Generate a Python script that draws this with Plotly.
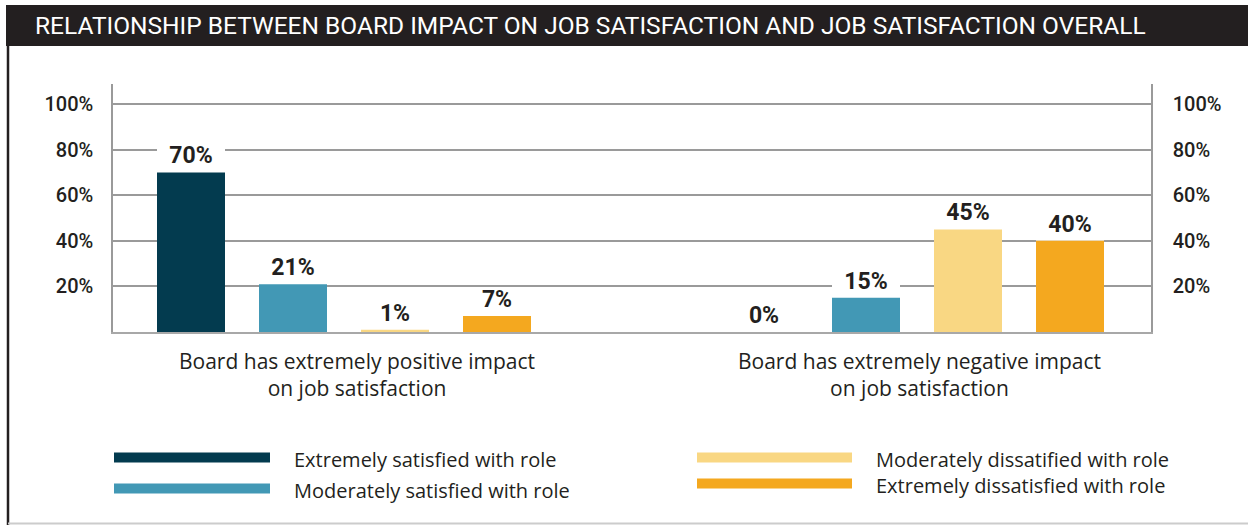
import plotly.graph_objects as go

# ---------------- data ----------------
categories = ["Board has extremely positive impact<br>on job satisfaction",
              "Board has extremely negative impact<br>on job satisfaction"]
series_names = ["Extremely satisfied with role",
                "Moderately satisfied with role",
                "Moderately dissatified with role",
                "Extremely dissatisfied with role"]
values_positive = [70, 21, 1, 7]
values_negative = [0, 15, 45, 40]
series_colors = ["#033b4f", "#4298b5", "#f9d783", "#f4a81f"]
y_ticks = [20, 40, 60, 80, 100]
y_tick_labels = ["20%", "40%", "60%", "80%", "100%"]
title_text = "RELATIONSHIP BETWEEN BOARD IMPACT ON JOB SATISFACTION AND JOB SATISFACTION OVERALL"

# ---------------- layout constants (pixels) ----------------
W, H = 1248, 525
L, R, T, B = 113, 1151, 84, 331.7
FONT = "Roboto, 'DejaVu Sans', sans-serif"
BODY = "'Open Sans', Roboto, sans-serif"
INK = "#231f20"

def px(x):
    return (x - L) / (R - L)

def py(y):
    return (B - y) / (B - T)

x_pos = list(range(len(categories)))
series_values = [[values_positive[i], values_negative[i]] for i in range(len(series_names))]

fig = go.Figure()

# white label backgrounds (drawn above gridlines, below the labels)
for i, name in enumerate(series_names):
    fig.add_trace(go.Bar(
        x=x_pos, y=[11] * len(x_pos), base=series_values[i],
        marker=dict(color="white", line=dict(width=0)),
        offsetgroup=str(i), showlegend=False, hoverinfo="skip",
    ))

for i, name in enumerate(series_names):
    fig.add_trace(go.Bar(
        x=x_pos, y=series_values[i], name=name,
        marker=dict(color=series_colors[i], line=dict(width=0)),
        offsetgroup=str(i), showlegend=False,
        text=[f"{v}%" for v in series_values[i]],
        textposition="outside", cliponaxis=False,
        textfont=dict(family=FONT, size=23, color=INK, weight="bold"),
    ))

# invisible trace for right axis
fig.add_trace(go.Scatter(x=[x_pos[0]], y=[y_ticks[0]], yaxis="y2",
                         mode="markers", marker=dict(opacity=0),
                         showlegend=False, hoverinfo="skip"))

ymax = (B - T) / ((B - 104) / 100)
yax = dict(range=[0, ymax], tickmode="array", tickvals=y_ticks, ticktext=y_tick_labels,
           showgrid=True, gridcolor="#9a9a9a", gridwidth=1.5,
           showline=True, linecolor="#9a9a9a", linewidth=1.5,
           zeroline=False, ticks="",
           tickfont=dict(family=FONT, size=20, color=INK, weight=500))

unit = 573
fig.update_layout(
    width=W, height=H,
    margin=dict(l=L, r=W - R, t=T, b=H - B, pad=0),
    paper_bgcolor="white", plot_bgcolor="white",
    barmode="group", bargap=1 - 408 / unit, bargroupgap=1 / 3,
    xaxis=dict(range=[(L - 344) / unit, (R - 344) / unit],
               showticklabels=False, showgrid=False, zeroline=False,
               showline=True, linecolor="#a8a8a8", linewidth=2, ticks=""),
    yaxis=dict(yax, ticklabelstandoff=14),
    yaxis2=dict(yax, overlaying="y", side="right", showgrid=False, ticklabelstandoff=16),
    font=dict(family=FONT, color=INK),
)

shapes = []
annotations = []

# title bar
shapes.append(dict(type="rect", xref="paper", yref="paper",
                   x0=px(6), x1=px(W + 2), y0=py(46), y1=py(5),
                   fillcolor=INK, line=dict(width=0), layer="above"))
annotations.append(dict(text=title_text, xref="paper", yref="paper",
                        x=px(33), y=py(26), xanchor="left", yanchor="middle",
                        showarrow=False,
                        font=dict(family=FONT, size=24.5, color="white")))
# frame lines
shapes.append(dict(type="line", xref="paper", yref="paper",
                   x0=px(8), x1=px(8), y0=py(46), y1=py(H + 2),
                   line=dict(color=INK, width=2.5)))
shapes.append(dict(type="line", xref="paper", yref="paper",
                   x0=px(8), x1=px(W + 2), y0=py(523), y1=py(523),
                   line=dict(color="#cccccc", width=2)))

# category labels
cat_shift = [13, 2]
for i, c in enumerate(categories):
    annotations.append(dict(text=c, x=x_pos[i], xref="x", xshift=cat_shift[i],
                            yref="paper", y=py(345), yanchor="top",
                            showarrow=False, align="center",
                            font=dict(family=BODY, size=21, color=INK)))

# legend (long line swatches)
legend_cols = [(114, 270, 292), (114, 270, 292), (697, 852, 874), (697, 852, 874)]
legend_rows = [457, 488, 457, 483]
for i, name in enumerate(series_names):
    x0, x1, xt = legend_cols[i]
    yy = legend_rows[i]
    shapes.append(dict(type="line", xref="paper", yref="paper",
                       x0=px(x0), x1=px(x1), y0=py(yy), y1=py(yy),
                       line=dict(color=series_colors[i], width=10)))
    annotations.append(dict(text=name, xref="paper", yref="paper",
                            x=px(xt), y=py(yy + 2), xanchor="left", yanchor="middle",
                            showarrow=False,
                            font=dict(family=BODY, size=20, color=INK)))

fig.update_layout(shapes=shapes, annotations=annotations)
fig.write_html("out.html")
